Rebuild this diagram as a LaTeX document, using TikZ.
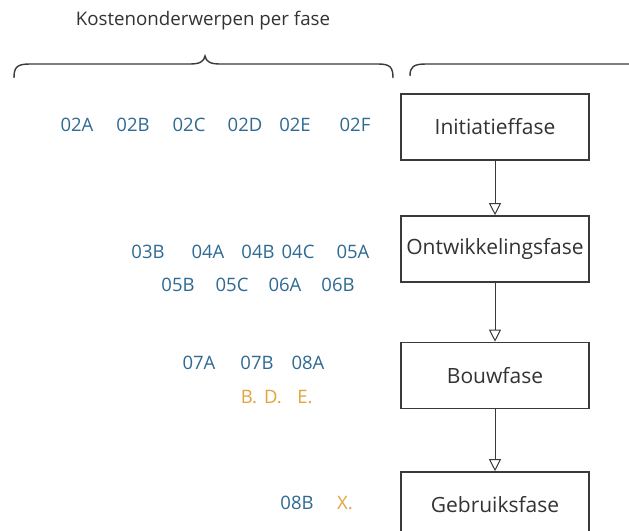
\documentclass[tikz,border=0pt]{standalone}
\usepackage{fontspec}
\setmainfont{Open Sans}
\usetikzlibrary{arrows.meta}
\definecolor{codeblue}{HTML}{2F6A93}
\definecolor{codeorange}{HTML}{E3A43C}
\definecolor{linegray}{HTML}{3A3A3A}
\definecolor{textgray}{HTML}{333333}
\tikzset{
  phasebox/.style={draw=linegray, line width=1.6pt, minimum width=188pt, minimum height=66pt,
    inner sep=0pt, text=textgray, font=\fontsize{21}{25}\selectfont},
  code/.style={text=codeblue, inner sep=0pt, font=\fontsize{18.5}{22}\selectfont},
  letter/.style={text=codeorange, inner sep=0pt, font=\fontsize{18.5}{22}\selectfont},
  flow/.style={draw=linegray, line width=1pt, -{Triangle[open, length=12pt, width=12pt]}},
  bracestyle/.style={draw=linegray, line width=1.4pt}
}
\begin{document}
\begin{tikzpicture}[x=1pt, y=-1pt]
\clip (0,0) rectangle (629,530);
\fill[white] (0,0) rectangle (629,530);
% title
\node[text=textgray, inner sep=0pt, font=\fontsize{18.7}{22}\selectfont] (title) at (203,21) {Kostenonderwerpen per fase};
% braces
\draw[bracestyle] (14,78) .. controls (14,67) and (17,64) .. (30,64) -- (190,64)
  .. controls (199,64) and (204,62) .. (205,56)
  .. controls (206,62) and (211,64) .. (220,64) -- (378,64)
  .. controls (390,64) and (393,67) .. (393,78);
\draw[bracestyle] (410,76) .. controls (410,67) and (413,64) .. (426,64) -- (640,64);
% phase boxes
\node[phasebox] (init) at (495,127) {Initiatieffase};
\node[phasebox] (ontw) at (495,249) {Ontwikkelingsfase};
\node[phasebox] (bouw) at (495,375.5) {Bouwfase};
\node[phasebox] (gebr) at (495,505) {Gebruiksfase};
% arrows
\draw[flow] (init.south) -- (ontw.north);
\draw[flow] (ontw.south) -- (bouw.north);
\draw[flow] (bouw.south) -- (gebr.north);
% initiatiefase codes
\node[code] (c02A) at (77,125) {02A};
\node[code] (c02B) at (133,125) {02B};
\node[code] (c02C) at (189,125) {02C};
\node[code] (c02D) at (245,125) {02D};
\node[code] (c02E) at (295,125) {02E};
\node[code] (c02F) at (355,125) {02F};
% ontwikkelingsfase codes
\node[code] (c03B) at (148,252) {03B};
\node[code] (c04A) at (208,252) {04A};
\node[code] (c04B) at (258,252) {04B};
\node[code] (c04C) at (298,252) {04C};
\node[code] (c05A) at (353,252) {05A};
\node[code] (c05B) at (178,285) {05B};
\node[code] (c05C) at (232,285) {05C};
\node[code] (c06A) at (285,285) {06A};
\node[code] (c06B) at (338,285) {06B};
% bouwfase codes
\node[code] (c07A) at (199,363) {07A};
\node[code] (c07B) at (257,363) {07B};
\node[code] (c08A) at (308,363) {08A};
\node[letter] (lB) at (249,397) {B.};
\node[letter] (lD) at (273,397) {D.};
\node[letter] (lE) at (305,397) {E.};
% gebruiksfase codes
\node[code] (c08B) at (297,503) {08B};
\node[letter] (lX) at (345,503) {X.};
\end{tikzpicture}
\end{document}
